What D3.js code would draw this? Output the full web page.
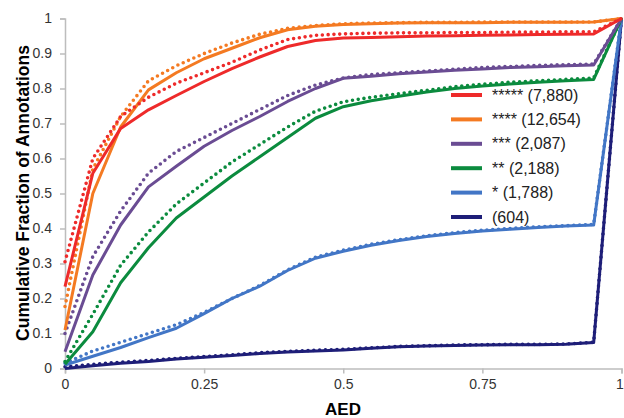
<!DOCTYPE html>
<html>
<head>
<meta charset="utf-8">
<script src="https://cdn.jsdelivr.net/npm/d3@7"></script>
<style>
	body { margin: 0; background: #fff; }
	text { font-family: "Liberation Sans", Arial, sans-serif; }
</style>
</head>
<body>
<svg id="chart" width="624" height="418"></svg>
<script>
// AED thresholds (x positions of the points)
const aed = [0, 0.05, 0.1, 0.15, 0.2, 0.25, 0.3, 0.35, 0.4, 0.45, 0.5, 0.55, 0.6, 0.65, 0.7, 0.75, 0.8, 0.85, 0.9, 0.95, 1];

const groups = ["***** (7,880)", "**** (12,654)", "*** (2,087)", "** (2,188)", "* (1,788)", "(604)"];
const colors = ["#ee2a2a", "#f47a22", "#6a4c93", "#0b8b3e", "#4276c6", "#1e1e78"];

// solid lines
const solid5 = [0.234, 0.558, 0.686, 0.739, 0.78, 0.82, 0.857, 0.89, 0.92, 0.937, 0.944, 0.946, 0.948, 0.95, 0.951, 0.952, 0.953, 0.954, 0.955, 0.956, 1];
const solid4 = [0.11, 0.5, 0.69, 0.796, 0.845, 0.885, 0.915, 0.945, 0.968, 0.978, 0.983, 0.985, 0.987, 0.988, 0.988, 0.988, 0.989, 0.989, 0.989, 0.99, 1];
const solid3 = [0.048, 0.267, 0.41, 0.519, 0.578, 0.635, 0.68, 0.72, 0.763, 0.8, 0.829, 0.835, 0.842, 0.847, 0.852, 0.856, 0.86, 0.862, 0.865, 0.867, 1];
const solid2 = [0.012, 0.105, 0.245, 0.345, 0.43, 0.49, 0.55, 0.605, 0.66, 0.715, 0.748, 0.765, 0.778, 0.79, 0.8, 0.807, 0.813, 0.818, 0.822, 0.826, 1];
const solid1 = [0.01, 0.035, 0.06, 0.088, 0.115, 0.157, 0.2, 0.235, 0.28, 0.315, 0.335, 0.352, 0.366, 0.377, 0.386, 0.393, 0.398, 0.403, 0.407, 0.41, 1];
const solid0 = [0.0, 0.008, 0.015, 0.02, 0.027, 0.032, 0.037, 0.043, 0.047, 0.05, 0.053, 0.058, 0.062, 0.064, 0.066, 0.067, 0.068, 0.068, 0.069, 0.074, 1];

// dotted lines
const dotted5 = [0.305, 0.6, 0.72, 0.775, 0.815, 0.845, 0.875, 0.91, 0.94, 0.952, 0.956, 0.958, 0.959, 0.959, 0.96, 0.96, 0.961, 0.961, 0.962, 0.962, 1];
const dotted4 = [0.177, 0.57, 0.72, 0.822, 0.865, 0.9, 0.93, 0.955, 0.972, 0.98, 0.985, 0.987, 0.988, 0.989, 0.989, 0.99, 0.99, 0.99, 0.99, 0.99, 1];
const dotted3 = [0.1, 0.32, 0.45, 0.558, 0.62, 0.66, 0.7, 0.74, 0.78, 0.81, 0.83, 0.84, 0.845, 0.85, 0.855, 0.86, 0.863, 0.866, 0.868, 0.87, 1];
const dotted2 = [0.02, 0.155, 0.295, 0.39, 0.47, 0.53, 0.59, 0.64, 0.69, 0.735, 0.762, 0.775, 0.785, 0.795, 0.805, 0.812, 0.818, 0.822, 0.826, 0.83, 1];
const dotted1 = [0.015, 0.05, 0.075, 0.1, 0.125, 0.16, 0.2, 0.237, 0.282, 0.318, 0.338, 0.355, 0.368, 0.379, 0.388, 0.395, 0.4, 0.405, 0.408, 0.412, 1];
const dotted0 = [0.005, 0.012, 0.018, 0.023, 0.029, 0.034, 0.039, 0.045, 0.049, 0.052, 0.055, 0.059, 0.063, 0.065, 0.067, 0.068, 0.069, 0.069, 0.07, 0.075, 1];

const solids = [solid5, solid4, solid3, solid2, solid1, solid0];
const dotteds = [dotted5, dotted4, dotted3, dotted2, dotted1, dotted0];

const xTicks = [0, 0.25, 0.5, 0.75, 1];
const yTicks = [0, 0.1, 0.2, 0.3, 0.4, 0.5, 0.6, 0.7, 0.8, 0.9, 1];

const svg = d3.select("#chart");
const margin = { top: 18.5, right: 2.5, bottom: 49.5, left: 65 };
const w = 624 - margin.left - margin.right,
	h = 418 - margin.top - margin.bottom;

const g = svg.append("g")
	.attr("transform", "translate(" + margin.left + "," + margin.top + ")");

const xScale = d3.scaleLinear().domain([0, 1]).range([0, w]);
const yScale = d3.scaleLinear().domain([0, 1]).range([h, 0]);

// axes
const xAxis = d3.axisBottom(xScale).tickValues(xTicks).tickSize(5).tickPadding(6)
	.tickFormat(d => String(d));
const yAxis = d3.axisLeft(yScale).tickValues(yTicks).tickSize(5).tickPadding(8)
	.tickFormat(d => String(d));

const gX = g.append("g").attr("transform", "translate(0," + h + ")").call(xAxis);
const gY = g.append("g").call(yAxis);

[gX, gY].forEach(ax => {
	ax.select(".domain").attr("stroke", "#bdbdbd").attr("stroke-width", 1.5);
	ax.selectAll(".tick line").attr("stroke", "#bdbdbd").attr("stroke-width", 1.5);
	ax.selectAll(".tick text").attr("fill", "#333").style("font-size", "14px");
});

// the last x label sits at the very edge, as in the original
gX.selectAll(".tick text").filter(d => d === 1).attr("dx", "-0.15em");

// lines
const line = d3.line()
	.x((d, i) => xScale(aed[i]))
	.y(d => yScale(d));

const lines = g.append("g");
for (let k = solids.length - 1; k >= 0; k--) {
	lines.append("path")
		.attr("d", line(dotteds[k]))
		.attr("fill", "none")
		.attr("stroke", colors[k])
		.attr("stroke-width", 3.6)
		.attr("stroke-linecap", "round")
		.attr("stroke-dasharray", "0,5.8");
	lines.append("path")
		.attr("d", line(solids[k]))
		.attr("fill", "none")
		.attr("stroke", colors[k])
		.attr("stroke-width", 3)
		.attr("stroke-linejoin", "round");
}

// legend
const legend = svg.append("g").attr("transform", "translate(451,95)");
groups.forEach((name, i) => {
	const row = legend.append("g").attr("transform", "translate(0," + (i * 24.4) + ")");
	row.append("line")
		.attr("x1", 0).attr("x2", 31)
		.attr("stroke", colors[i])
		.attr("stroke-width", 4);
	row.append("text")
		.attr("x", 41)
		.attr("y", 5.5)
		.attr("fill", "#222")
		.style("font-size", "16px")
		.text(name);
});

// axis titles
svg.append("text")
	.attr("x", 343)
	.attr("y", 415)
	.attr("text-anchor", "middle")
	.style("font-size", "17px")
	.style("font-weight", "bold")
	.text("AED");

svg.append("text")
	.attr("transform", "translate(29,193) rotate(-90)")
	.attr("text-anchor", "middle")
	.style("font-size", "17.5px")
	.style("font-weight", "bold")
	.text("Cumulative Fraction of Annotations");
</script>
</body>
</html>
